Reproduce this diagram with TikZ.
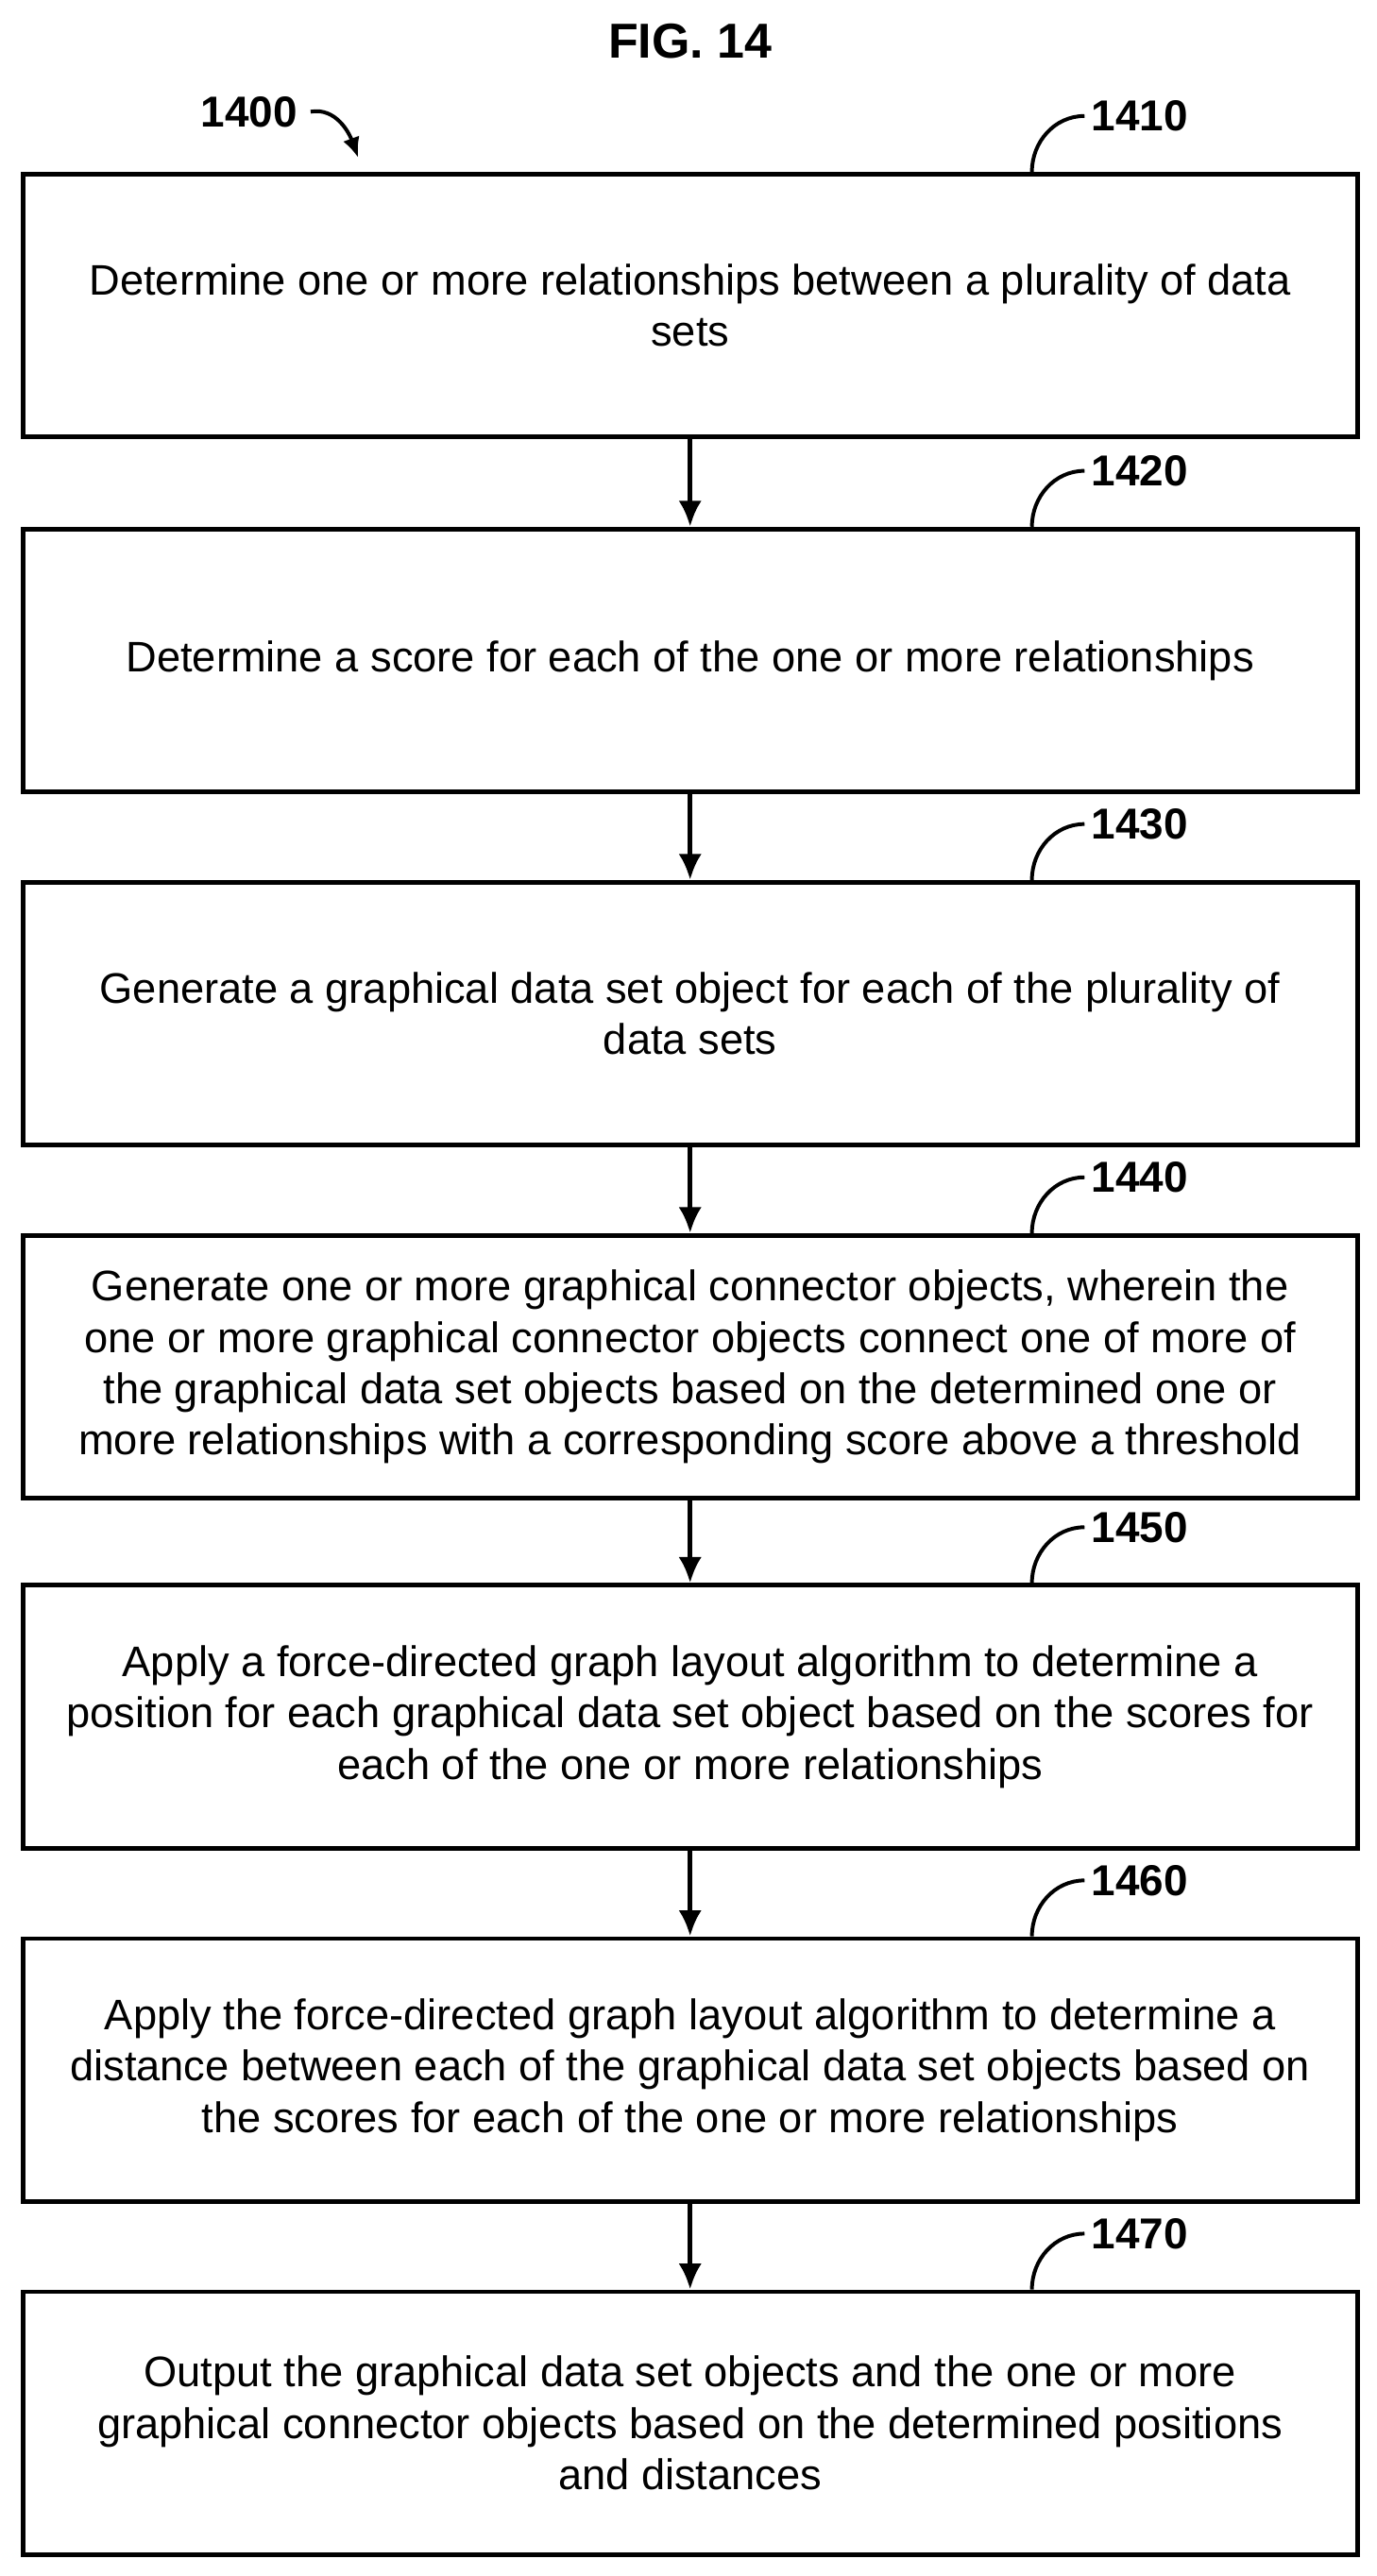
\documentclass[tikz,border=0pt]{standalone}
\usepackage{fontspec}
\setmainfont{Liberation Sans}
\usetikzlibrary{arrows.meta}
\tikzset{
    box/.style={draw, line width=1.6pt, minimum width=812*0.02cm, minimum height=160*0.02cm,
        align=center, inner sep=0pt,
        font=\fontsize{14.8}{17.8}\selectfont},
    lbl/.style={font=\bfseries\fontsize{15}{17}\selectfont, anchor=west},
    flow/.style={-{Latex[length=9pt,width=8pt]}, line width=1.6pt},
    tick/.style={line width=1.3pt}
}
\begin{document}
\begin{tikzpicture}[x=0.02cm,y=-0.02cm]
    \useasboundingbox (0,0) rectangle (838,1568);
    \node[font=\bfseries\fontsize{17}{20}\selectfont] (title) at (420,25) {FIG. 14};
    \node[lbl] (n1400) at (116,68) {1400};
    \coordinate (a1400) at (218,96);
    \draw[tick, -{Latex[length=7pt,width=6pt]}] (n1400.east) ++(2,0) to[out=10, in=110] (a1400);
    % Boxes
    \node[box] (b1410) at (420,186) {Determine one or more relationships between a plurality of data\\sets};
    \node[box] (b1420) at (420,402) {Determine a score for each of the one or more relationships};
    \node[box] (b1430) at (420,617) {Generate a graphical data set object for each of the plurality of\\data sets};
    \node[box] (b1440) at (420,832) {Generate one or more graphical connector objects, wherein the\\one or more graphical connector objects connect one of more of\\the graphical data set objects based on the determined one or\\more relationships with a corresponding score above a threshold};
    \node[box] (b1450) at (420,1045) {Apply a force-directed graph layout algorithm to determine a\\position for each graphical data set object based on the scores for\\each of the one or more relationships};
    \node[box] (b1460) at (420,1260) {Apply the force-directed graph layout algorithm to determine a\\distance between each of the graphical data set objects based on\\the scores for each of the one or more relationships};
    \node[box] (b1470) at (420,1475) {Output the graphical data set objects and the one or more\\graphical connector objects based on the determined positions\\and distances};
    % Reference labels
    \foreach \n in {1410,1420,1430,1440,1450,1460,1470} {
        \coordinate (t\n) at ([xshift=208*0.02cm]b\n.north);
        \node[lbl] (l\n) at ([xshift=30*0.02cm, yshift=34*0.02cm]t\n) {\n};
        \draw[tick] (t\n) to[out=90, in=180] ([xshift=2*0.02cm]l\n.west);
    }
    % Transitions
    \foreach \a/\b in {1410/1420,1420/1430,1430/1440,1440/1450,1450/1460,1460/1470}
        \draw[flow] (b\a) -- (b\b);
\end{tikzpicture}
\end{document}
